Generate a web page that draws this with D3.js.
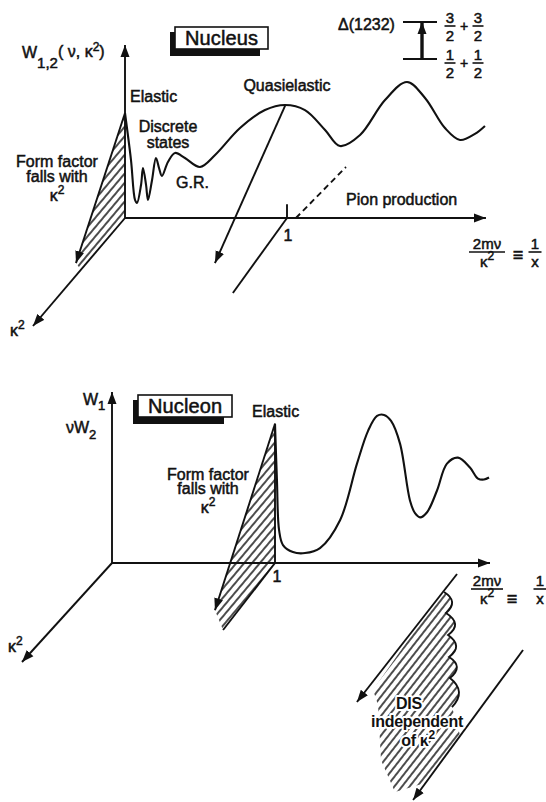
<!DOCTYPE html>
<html>
<head>
<meta charset="utf-8">
<script src="https://cdn.jsdelivr.net/npm/d3@7"></script>
<style>
body { margin: 0; background: #fff; }
svg { display: block; }
text { font-family: "Liberation Sans", Arial, sans-serif; font-size: 16px; fill: #111; stroke: #111; stroke-width: 0.5px; }
text.halo { stroke: #fff; stroke-width: 4px; stroke-linejoin: round; paint-order: stroke; font-weight: bold; letter-spacing: -0.3px; }
.line { fill: none; stroke: #111; stroke-width: 1.9px; }
.curve { fill: none; stroke: #111; stroke-width: 2.1px; stroke-linejoin: round; }
</style>
</head>
<body>
<div id="chart"></div>
<script>
// nucleus response W(x) along 2mv/k^2 (x = 1 at quasielastic peak), height in axis units
const nucleusCurve = [
  [0.000, 0.607], [0.037, 0.335], [0.062, 0.104], [0.074, 0.087], [0.099, 0.191],
  [0.111, 0.289], [0.130, 0.191], [0.142, 0.104], [0.167, 0.220], [0.191, 0.347],
  [0.210, 0.289], [0.228, 0.243], [0.265, 0.324], [0.309, 0.376], [0.370, 0.347],
  [0.463, 0.295], [0.556, 0.364], [0.710, 0.520], [0.864, 0.624], [0.988, 0.653],
  [1.111, 0.624], [1.235, 0.509], [1.327, 0.416], [1.451, 0.480], [1.605, 0.682],
  [1.741, 0.786], [1.852, 0.694], [1.975, 0.520], [2.068, 0.451], [2.160, 0.486],
  [2.222, 0.532]
]
// nucleon response, elastic at x = 1
const nucleonCurve = [
  [1.000, 0.814], [1.012, 0.483], [1.025, 0.192], [1.049, 0.105], [1.110, 0.064],
  [1.184, 0.058], [1.276, 0.087], [1.399, 0.250], [1.503, 0.581], [1.571, 0.773],
  [1.626, 0.860], [1.669, 0.866], [1.712, 0.831], [1.767, 0.698], [1.828, 0.366],
  [1.859, 0.291], [1.890, 0.267], [1.933, 0.297], [1.994, 0.424], [2.055, 0.581],
  [2.123, 0.616], [2.196, 0.558], [2.245, 0.494], [2.282, 0.488], [2.313, 0.500]
]
// 3d points [x, W, k^2]
const nucleusHatch = [[0, 0.607, 0], [0, 0, 0], [0, 0, 0.48], [0, 0.072, 0.533]]
const nucleusFormFactor = [[0, 0.607, 0], [0, 0.072, 0.533]]
const quasiArrow = [[0.99, 0.653, 0], [0.792, 0, 0.417]]
const nucleusTickLine = [[1, 0, 0], [1.06, 0, 0.694]]
const pionDash = [[1.055, 0, 0], [1.096, 0, -0.472]]
const nucleonHatch = [[1, 0.814, 0], [1, 0, 0], [1.055, 0, 0.677], [1, 0.11, 0.667]]
const nucleonFormFactor = [[1, 0.814, 0], [1, 0.11, 0.667]]
const nucleonTickLine = [[1, 0, 0], [1.055, 0, 0.677]]
// DIS region on the floor, [x, k^2]
const disCusps = [[2.199, 0.293], [2.328, 0.505], [2.463, 0.727], [2.592, 0.949], [2.715, 1.162], [2.889, 1.455]]
const disBulges = [[2.304, 0.394], [2.445, 0.616], [2.574, 0.838], [2.696, 1.051], [2.848, 1.303]]
const disRest = [[3.094, 1.737], [3.147, 2.222], [3.013, 2.313], [2.749, 1.990], [2.424, 1.434], [2.310, 1.283], [2.177, 0.232]]
const disLines = [[[2.178, 0.111], [2.278, 1.404]], [[3.007, 0.879], [3.169, 2.394]]]
// delta level scheme
const levels = [{ spin: 0.5, num: '1' }, { spin: 1.5, num: '3' }]

const width = 546, height = 802
const svg = d3.select('#chart').append('svg').attr('width', width).attr('height', height)
const defs = svg.append('defs')

defs.append('marker').attr('id', 'arrow')
  .attr('viewBox', '0 -5 12 10').attr('refX', 12).attr('refY', 0)
  .attr('markerWidth', 12).attr('markerHeight', 10)
  .attr('markerUnits', 'userSpaceOnUse').attr('orient', 'auto')
  .append('path').attr('d', 'M0,-4.5L12,0L0,4.5Z').attr('fill', '#111')

function hatch(id, angle, gap) {
  const p = defs.append('pattern').attr('id', id)
    .attr('patternUnits', 'userSpaceOnUse')
    .attr('width', gap).attr('height', gap)
    .attr('patternTransform', `rotate(${angle})`)
  p.append('line').attr('x1', 0).attr('x2', gap).attr('y1', gap / 2).attr('y2', gap / 2)
    .attr('stroke', '#111').attr('stroke-width', 1.5)
}
hatch('hatchA', -50, 6)
hatch('hatchB', -52, 6)

function panel(xr, yr, depth) {
  const x = d3.scaleLinear().domain([0, 1]).range(xr)
  const y = d3.scaleLinear().domain([0, 1]).range(yr)
  const p = d => [x(d[0]) + (d[2] || 0) * depth[0], y(d[1]) + (d[2] || 0) * depth[1]]
  return { x, y, p }
}
const nuc = panel([125, 287], [218, 45], [-92, 108])
const ncl = panel([112, 275], [563, 392], [-90, 99])

const g = svg.append('g')

function seg(P, pts, cls, arrow) {
  const l = g.append('path').attr('class', cls || 'line').attr('d', d3.line()(pts.map(P.p)))
  if (arrow) l.attr('marker-end', 'url(#arrow)')
  return l
}

function label(x, y, parts, anchor, size, halo) {
  const t = g.append('text').attr('x', x).attr('y', y)
    .attr('text-anchor', anchor || 'start').style('font-size', (size || 16) + 'px')
  if (halo) t.attr('class', 'halo')
  const list = typeof parts === 'string' ? [[parts]] : parts
  list.forEach(([s, dy, fs]) => {
    const ts = t.append('tspan').text(s)
    if (dy) ts.attr('dy', dy)
    if (fs) ts.style('font-size', fs + 'px')
  })
  return t
}
const k2 = [['κ'], ['2', -7, 12]]

function box(x0, y0, w, h, str) {
  g.append('rect').attr('x', x0 - 5).attr('y', y0 + 5).attr('width', w - 3).attr('height', h + 2).attr('fill', '#111')
  g.append('rect').attr('x', x0).attr('y', y0).attr('width', w).attr('height', h)
    .attr('fill', '#fff').attr('stroke', '#111').attr('stroke-width', 1.6)
  g.append('text').attr('x', x0 + w / 2).attr('y', y0 + h - 4).attr('text-anchor', 'middle')
    .attr('textLength', w - 20).style('font-size', '20px').text(str)
}

function fraction(cx, yBar, num, den, w, size) {
  label(cx, yBar - 3, num, 'middle', size || 15)
  g.append('line').attr('x1', cx - w / 2).attr('x2', cx + w / 2).attr('y1', yBar).attr('y2', yBar)
    .attr('stroke', '#111').attr('stroke-width', 1.6)
  label(cx, yBar + 15, den, 'middle', size || 15)
}

const curveLine = P => d3.line().x(d => P.x(d[0])).y(d => P.y(d[1])).curve(d3.curveCatmullRom.alpha(0.5))

// ---------- Nucleus panel ----------
g.append('path').attr('d', d3.line()(nucleusHatch.map(nuc.p)) + 'Z').attr('fill', 'url(#hatchA)')
seg(nuc, [[0, 0, 0], [0, 1, 0]], 'line', true)
seg(nuc, [[0, 0, 0], [2.228, 0, 0]], 'line', true)
seg(nuc, [[0, 0, 0], [0, 0, 1]], 'line', true)
seg(nuc, nucleusFormFactor, 'line', true)
seg(nuc, [[1, 0, 0], [1, 0.08, 0]])
seg(nuc, nucleusTickLine)
seg(nuc, pionDash).attr('stroke-dasharray', '6,4')
seg(nuc, quasiArrow, 'line', true)
g.append('path').attr('class', 'curve').attr('d', curveLine(nuc)(nucleusCurve))

label(22, 58, [['W'], ['1,2', 10, 15], ['( ν, κ', -11], ['2', -6, 12], [')', 6]])
box(175, 27, 93, 22, 'Nucleus')
label(130, 102, 'Elastic')
label(168, 132, 'Discrete', 'middle')
label(168, 148, 'states', 'middle')
label(176, 188, 'G.R.')
label(57, 167, 'Form factor', 'middle')
label(57, 182, 'falls with', 'middle')
label(57, 201, k2, 'middle')
label(287, 91, 'Quasielastic', 'middle')
label(346, 205, 'Pion production')
label(288, 241, '1', 'middle')
label(10, 336, k2)
fraction(487, 252, '2mν', k2, 36)
label(518, 261, '≡', 'middle', 18)
fraction(535, 252, '1', 'x', 13)

// delta level scheme
const lv = d3.scaleLinear().domain([0.5, 1.5]).range([59, 22])
levels.forEach(d => {
  g.append('line').attr('x1', 403).attr('x2', 437).attr('y1', lv(d.spin)).attr('y2', lv(d.spin))
    .attr('stroke', '#111').attr('stroke-width', 1.9)
  fraction(450, lv(d.spin) + 4, d.num, '2', 11, 15)
  label(464, lv(d.spin) + 9, '+', 'middle', 14)
  fraction(478, lv(d.spin) + 4, d.num, '2', 11, 15)
})
g.append('line').attr('x1', 422).attr('x2', 422).attr('y1', lv(0.5)).attr('y2', lv(1.5))
  .attr('stroke', '#111').attr('stroke-width', 3.4).attr('marker-end', 'url(#arrow)')
label(338, 30, 'Δ(1232)')

// ---------- Nucleon panel ----------
g.append('path').attr('d', d3.line()(nucleonHatch.map(ncl.p)) + 'Z').attr('fill', 'url(#hatchA)')
seg(ncl, [[0, 0, 0], [0, 1, 0]], 'line', true)
seg(ncl, [[0, 0, 0], [2.319, 0, 0]], 'line', true)
seg(ncl, [[0, 0, 0], [0, 0, 1]], 'line', true)
seg(ncl, nucleonFormFactor, 'line', true)
seg(ncl, [[1, 0, 0], [1, 0.814, 0]])
seg(ncl, nucleonTickLine)
g.append('path').attr('class', 'curve').attr('d', curveLine(ncl)(nucleonCurve))

// DIS region
const fp = d => ncl.p([d[0], 0, d[1]])
let disD = 'M' + fp(disCusps[0])
let scallopD = 'M' + fp(disCusps[0])
disBulges.forEach((b, i) => {
  const c0 = fp(disCusps[i]), c1 = fp(disCusps[i + 1]), m = fp(b)
  const ctrl = [2 * m[0] - (c0[0] + c1[0]) / 2, 2 * m[1] - (c0[1] + c1[1]) / 2]
  const q = `Q${ctrl}` + ' ' + c1
  disD += q
  scallopD += q
})
disRest.forEach(d => { disD += 'L' + fp(d) })
disD += 'Z'
g.append('path').attr('d', disD).attr('fill', 'url(#hatchB)')
g.append('path').attr('class', 'line').attr('d', scallopD)
disLines.forEach(l => {
  g.append('path').attr('class', 'line').attr('d', d3.line()(l.map(fp))).attr('marker-end', 'url(#arrow)')
})

label(83, 405, [['W'], ['1', 5, 13]])
label(66, 433, [['νW'], ['2', 6, 13]])
box(138, 395, 94, 22, 'Nucleon')
label(252, 417, 'Elastic')
label(208, 480, 'Form factor', 'middle')
label(208, 494, 'falls with', 'middle')
label(208, 513, k2, 'middle')
label(277, 582, '1', 'middle')
label(8, 652, k2)
fraction(487, 589, '2mν', k2, 32)
label(512, 605, '≡', 'middle', 18)
fraction(540, 589, '1', 'x', 13)
label(409, 709, 'DIS', 'middle', 16, true)
label(417, 727, 'independent', 'middle', 16, true)
label(418, 746, [['of κ'], ['2', -7, 12]], 'middle', 16, true)
</script>
</body>
</html>
